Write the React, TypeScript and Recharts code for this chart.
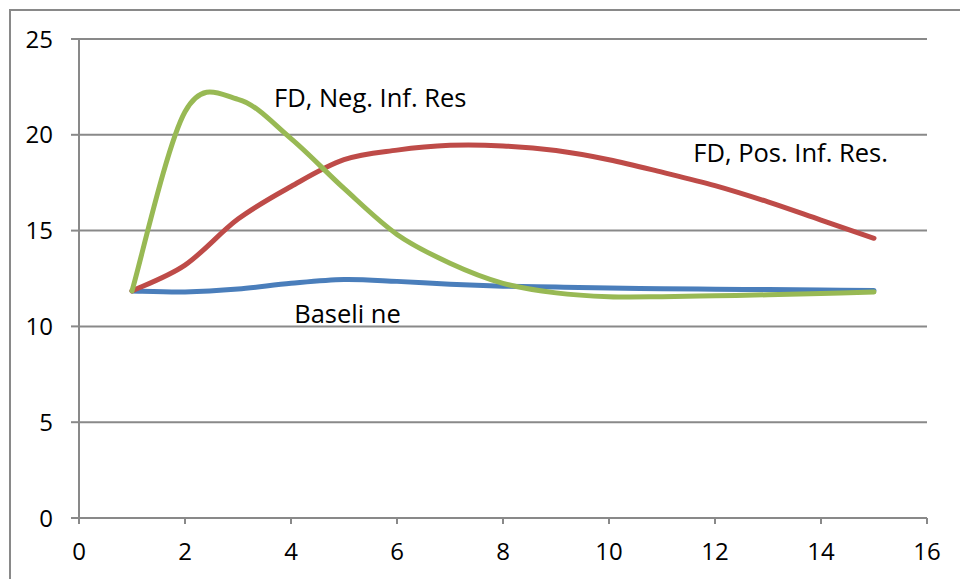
import { LineChart, Line, XAxis, YAxis, CartesianGrid, ReferenceDot } from 'recharts';

const XS = [1, 2, 3, 4, 5, 6, 7, 8, 9, 10, 11, 12, 13, 14, 15];
const BASELINE = [11.85, 11.8, 11.95, 12.25, 12.45, 12.35, 12.2, 12.1, 12.05, 12.0, 11.97, 11.94, 11.92, 11.9, 11.88];
const POS_INF = [11.85, 13.2, 15.6, 17.3, 18.7, 19.2, 19.45, 19.42, 19.18, 18.7, 18.05, 17.35, 16.5, 15.55, 14.6];
const NEG_INF = [11.85, 21.2, 21.85, 19.8, 17.2, 14.8, 13.3, 12.25, 11.75, 11.55, 11.55, 11.6, 11.65, 11.72, 11.8];
const X_TICKS = [0, 2, 4, 6, 8, 10, 12, 14, 16];
const Y_TICKS = [0, 5, 10, 15, 20, 25];

const data = XS.map((x, i) => ({ x, base: BASELINE[i], pos: POS_INF[i], neg: NEG_INF[i] }));

const FONT = '"Open Sans", sans-serif';
const GRID = '#898989';

// Excel-style smoothed line (uniform Catmull-Rom as cubic beziers)
const excelCurve = (context: any) => {
  let pts: [number, number][] = [];
  return {
    areaStart() {},
    areaEnd() {},
    lineStart() { pts = []; },
    lineEnd() {
      if (!pts.length) return;
      context.moveTo(pts[0][0], pts[0][1]);
      for (let i = 0; i < pts.length - 1; i++) {
        const p0 = pts[Math.max(i - 1, 0)];
        const p1 = pts[i];
        const p2 = pts[i + 1];
        const p3 = pts[Math.min(i + 2, pts.length - 1)];
        context.bezierCurveTo(
          p1[0] + (p2[0] - p0[0]) / 6, p1[1] + (p2[1] - p0[1]) / 6,
          p2[0] - (p3[0] - p1[0]) / 6, p2[1] - (p3[1] - p1[1]) / 6,
          p2[0], p2[1],
        );
      }
    },
    point(x: number, y: number) { pts.push([+x, +y]); },
  };
};

const labelAt = (text: string) => (p: any) => (
  <text x={p.cx} y={p.cy} fill="#000" fontSize={25.5} fontFamily={FONT}>{text}</text>
);

export default function App() {
  return (
    <div
      style={{
        position: 'absolute', left: 9, top: 9, width: 951, height: 570,
        borderLeft: `2px solid ${GRID}`, borderTop: `2px solid ${GRID}`, background: '#fff',
      }}
    >
      <LineChart width={949} height={568} data={data} margin={{ top: 28, right: 33, left: 0, bottom: 0 }}>
        <CartesianGrid vertical={false} stroke={GRID} strokeWidth={2} />
        <XAxis
          type="number" dataKey="x" domain={[0, 16]} ticks={X_TICKS} height={61}
          stroke={GRID} strokeWidth={2} tickSize={6} tickMargin={19}
          tick={{ fill: '#000', fontSize: 24, fontFamily: FONT }}
        />
        <YAxis
          type="number" domain={[0, 25]} ticks={Y_TICKS} width={68}
          stroke={GRID} strokeWidth={2} tickSize={8} tickMargin={18}
          tick={{ fill: '#000', fontSize: 24, fontFamily: FONT }}
        />
        <Line dataKey="base" type={excelCurve as any} stroke="#4a7ebb" strokeWidth={5} strokeLinecap="round" dot={false} isAnimationActive={false} />
        <Line dataKey="pos" type={excelCurve as any} stroke="#be4b48" strokeWidth={5} strokeLinecap="round" dot={false} isAnimationActive={false} />
        <Line dataKey="neg" type={excelCurve as any} stroke="#98b954" strokeWidth={5} strokeLinecap="round" dot={false} isAnimationActive={false} />
        <ReferenceDot x={3.68} y={21.45} r={0} shape={labelAt('FD, Neg. Inf. Res')} />
        <ReferenceDot x={11.59} y={18.58} r={0} shape={labelAt('FD, Pos. Inf. Res.')} />
        <ReferenceDot x={4.06} y={10.18} r={0} shape={labelAt('Baseli ne')} />
      </LineChart>
    </div>
  );
}
